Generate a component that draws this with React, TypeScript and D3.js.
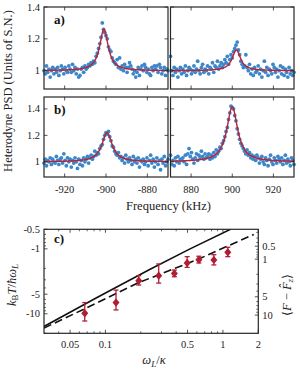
import React from 'react';
import * as d3 from 'd3';

const FONT = 'Liberation Serif, DejaVu Serif, serif';
const BLUE = '#3b87c9';
const RED = '#c21f32';
const MARK = '#b01e34';
const AXIS = '#262626';

// ---------- panels a) b): heterodyne PSD ----------
const freqStartLeft = -930;
const freqStartRight = 870;
const freqStep = 0.6;

const psdALeft = [
  1.00, 0.98, 1.03, 0.99, 1.01, 0.96, 1.00, 1.02, 0.98, 1.01,
  0.99, 1.02, 0.97, 1.00, 1.03, 1.01, 0.98, 1.02, 1.00, 0.99,
  1.03, 1.01, 0.99, 1.04, 1.00, 1.02, 0.98, 1.01, 0.96, 0.97,
  1.01, 1.02, 0.99, 1.03, 1.01, 1.02, 1.04, 1.03, 1.05, 1.04,
  1.06, 1.05, 1.09, 1.11, 1.14, 1.17, 1.21, 1.30, 1.26, 1.24,
  1.22, 1.20, 1.15, 1.13, 1.12, 1.08, 1.06, 1.05, 1.04, 1.07,
  1.02, 1.08, 1.01, 1.03, 1.00, 1.04, 1.02, 0.99, 1.02, 1.05,
  1.03, 1.01, 0.98, 1.00, 0.96, 0.99, 1.02, 0.97, 1.01, 1.03,
  1.00, 1.04, 1.02, 0.99, 1.01, 0.98, 0.97, 1.02, 1.00, 1.03,
  1.01, 1.03, 0.99, 1.04, 1.02, 0.98, 1.00, 1.02, 0.97, 1.01,
  1.00,
];
const psdARight = [
  1.09, 1.00, 0.97, 1.02, 0.99, 1.01, 0.96, 1.00, 1.02, 0.98,
  1.01, 0.99, 1.03, 0.97, 1.00, 1.02, 1.01, 0.98, 1.00, 1.03,
  0.99, 1.01, 1.06, 1.00, 0.98, 1.02, 1.04, 0.99, 1.01, 1.00,
  1.03, 0.98, 1.02, 1.01, 1.05, 0.99, 1.03, 1.02, 1.06, 1.01,
  1.03, 1.05, 1.02, 1.04, 1.07, 1.05, 1.09, 1.04, 1.07, 1.10,
  1.08, 1.12, 1.14, 1.16, 1.18, 1.13, 1.10, 1.06, 1.04, 1.02,
  1.03, 1.10, 1.02, 1.00, 1.04, 0.98, 1.01, 0.97, 1.02, 0.99,
  1.00, 1.03, 0.98, 1.01, 0.96, 1.00, 1.06, 0.99, 1.02, 0.97,
  1.01, 1.00, 0.98, 1.04, 1.02, 0.99, 1.01, 0.96, 1.00, 1.03,
  0.98, 1.02, 0.97, 1.01, 0.99, 0.96, 1.02, 0.98, 1.00, 0.97,
  0.99,
];
const psdBLeft = [
  0.99, 1.02, 0.97, 1.01, 1.00, 1.03, 0.98, 1.02, 1.00, 0.99,
  1.04, 1.01, 0.98, 1.02, 1.03, 0.99, 1.06, 1.01, 0.97, 1.03,
  1.00, 1.02, 0.96, 1.01, 0.99, 1.03, 1.00, 0.95, 1.02, 0.98,
  1.01, 0.97, 1.03, 1.00, 1.02, 1.04, 0.99, 1.03, 1.05, 1.02,
  1.04, 1.08, 1.05, 1.07, 1.06, 1.10, 1.12, 1.13, 1.17, 1.20,
  1.22, 1.21, 1.23, 1.19, 1.16, 1.12, 1.11, 1.08, 1.06, 1.05,
  1.07, 1.03, 1.04, 1.01, 1.03, 0.99, 1.05, 1.02, 1.00, 1.03,
  1.01, 0.98, 1.04, 1.00, 1.02, 0.99, 1.03, 0.96, 1.01, 1.00,
  1.02, 0.98, 1.00, 1.03, 0.97, 1.01, 1.05, 0.99, 1.02, 0.96,
  1.00, 1.03, 0.98, 1.01, 0.94, 1.02, 0.99, 1.04, 0.97, 1.00,
  1.02,
];
const psdBRight = [
  1.05, 0.98, 1.01, 0.97, 1.03, 1.00, 1.04, 0.99, 1.02, 1.01,
  1.03, 1.00, 1.05, 0.98, 1.06, 1.10, 1.04, 1.07, 1.02, 0.99,
  1.03, 1.06, 1.01, 1.05, 1.03, 1.08, 1.04, 1.02, 1.06, 1.03,
  1.04, 1.06, 1.02, 1.05, 1.03, 1.07, 1.04, 1.09, 1.06, 1.08,
  1.11, 1.10, 1.14, 1.16, 1.19, 1.23, 1.26, 1.32, 1.37, 1.42,
  1.41, 1.40, 1.35, 1.31, 1.25, 1.21, 1.17, 1.14, 1.12, 1.10,
  1.08, 1.06, 1.09, 1.05, 1.07, 1.03, 1.05, 1.02, 1.04, 1.01,
  1.05, 1.03, 0.99, 1.02, 1.04, 1.00, 0.98, 1.03, 1.01, 0.97,
  1.02, 1.05, 1.00, 0.98, 1.03, 1.01, 0.99, 1.04, 1.02, 1.00,
  1.03, 0.98, 1.01, 1.05, 0.99, 1.02, 1.00, 0.97, 1.03, 1.01,
  0.98,
];

// Lorentzian fit parameters (a-left, a-right, b-left, b-right)
const fitCenter = [-901, 902, -899.5, 900];
const fitAmp = [0.26, 0.13, 0.22, 0.415];
const fitWidth = [2.5, 2.5, 3.0, 3.2];

const xTicksLeft = [-920, -900, -880];
const xTicksRight = [880, 900, 920];
const yTicksPSD = [1, 1.2, 1.4];

// ---------- panel c) ----------
const omegaRatio = [0.0667, 0.123, 0.192, 0.284, 0.386, 0.496, 0.624, 0.837, 1.10];
const tempMeas = [-9.83, -6.73, -3.10, -2.59, -2.39, -1.65, -1.47, -1.48, -1.13];
const tempErrLow = [-12.93, -8.73, -3.61, -3.37, -2.69, -1.93, -1.65, -1.77, -1.32];
const tempErrHigh = [-6.73, -4.32, -2.59, -1.71, -2.12, -1.32, -1.30, -1.23, -0.945];
const theoryX = [0.03, 0.0848, 0.24, 0.525, 1.16];
const theoryT = [-15.7, -5.61, -2.06, -1.0, -0.5];
const approxX = [0.03, 0.0648, 0.191, 0.624, 1.83];
const approxT = [-16.6, -8.58, -3.33, -1.43, -0.6];
const xTicksC = [0.05, 0.1, 0.5, 1, 2];
const xTickLabelsC = ['0.05', '0.1', '0.5', '1', '2'];
const xMinorC = [0.04, 0.06, 0.07, 0.08, 0.09, 0.2, 0.3, 0.4, 0.6, 0.7, 0.8, 0.9];
const yTicksC = [-0.5, -1, -5, -10];
const yMinorC = [-0.6, -0.7, -0.8, -0.9, -2, -3, -4, -6, -7, -8, -9, -20];
const rightTicksC = [0.5, 1, 5, 10];
const rightMinorC = [0.2, 0.3, 0.4, 0.6, 0.7, 0.8, 0.9, 2, 3, 4, 6, 7, 8, 9];

type PanelProps = {
  data: number[];
  start: number;
  fit: number;
  x: d3.ScaleLinear<number, number>;
  y: d3.ScaleLinear<number, number>;
  xTicks: number[];
  showY: boolean;
  showX: boolean;
};

const txt = (size: number, extra: React.CSSProperties = {}): React.CSSProperties => ({
  fontFamily: FONT,
  fontSize: size,
  fill: '#222',
  ...extra,
});

function PSDPanel({ data, start, fit, x, y, xTicks, showY, showX }: PanelProps) {
  const [x0, x1] = x.range();
  const [y1, y0] = y.range();
  const pts = data.map((v, i) => [start + i * freqStep, v]);
  const [d0, d1] = x.domain();
  const curveF = d3.range(d0, d1 + 0.001, 0.1);
  const line = d3
    .line<number>()
    .x((f) => x(f))
    .y((f) => y(1 + fitAmp[fit] / (1 + ((f - fitCenter[fit]) / fitWidth[fit]) ** 2)));
  const tl = 3.5;
  return (
    <g>
      {pts.map(([f, v], i) => (
        <circle key={i} cx={x(f)} cy={y(v)} r={1.9} fill={BLUE} />
      ))}
      <path d={line(curveF) || ''} fill="none" stroke={RED} strokeWidth={1.4} />
      {xTicks.map((t) => (
        <g key={'x' + t}>
          <line x1={x(t)} x2={x(t)} y1={y0} y2={y0 + tl} stroke={AXIS} strokeWidth={0.8} />
          <line x1={x(t)} x2={x(t)} y1={y1} y2={y1 - tl} stroke={AXIS} strokeWidth={0.8} />
          {showX && (
            <text x={x(t)} y={y1 + 16} textAnchor="middle" style={txt(10.5)}>
              {t}
            </text>
          )}
        </g>
      ))}
      {yTicksPSD.map((t) => (
        <g key={'y' + t}>
          <line x1={x0} x2={x0 + tl} y1={y(t)} y2={y(t)} stroke={AXIS} strokeWidth={0.8} />
          <line x1={x1} x2={x1 - tl} y1={y(t)} y2={y(t)} stroke={AXIS} strokeWidth={0.8} />
          {showY && (
            <text x={x0 - 4} y={y(t) + 3.5} textAnchor="end" style={txt(10.5)}>
              {t === 1 ? '1' : t.toFixed(1)}
            </text>
          )}
        </g>
      ))}
      <rect x={x0} y={y0} width={x1 - x0} height={y1 - y0} fill="none" stroke={AXIS} strokeWidth={1.2} />
    </g>
  );
}

export default function App() {
  const xL = d3.scaleLinear().domain([-930, -870]).range([44, 168]);
  const xR = d3.scaleLinear().domain([870, 930]).range([170.5, 294]);
  const yA = d3.scaleLinear().domain([0.885, 1.4]).range([89, 7]);
  const yB = d3.scaleLinear().domain([0.885, 1.49]).range([177, 97]);

  // panel c
  const cx = d3.scaleLog().domain([0.03, 2]).range([44, 258.3]);
  const cyMag = d3.scaleLog().domain([0.5, 20]).range([229.3, 333.3]);
  const cy = (v: number) => cyMag(-v);
  const occToTemp = (n: number) => 1 / Math.log(1 + 1 / n);
  const [cX0, cX1] = cx.range();
  const [cY0, cY1] = cyMag.range();
  const lineC = (xs: number[], ts: number[]) =>
    d3
      .line<number>()
      .x((i) => cx(xs[i]))
      .y((i) => cy(ts[i]))(d3.range(xs.length)) || '';
  const tl = 3.5;
  const tm = 2;

  const diamond = (px: number, py: number) =>
    `M${px},${py - 4.2}L${px + 3.5},${py}L${px},${py + 4.2}L${px - 3.5},${py}Z`;

  return (
    <svg width={300} height={370} style={{ position: 'absolute', left: 0, top: 0, background: '#fff' }}>
      <PSDPanel data={psdALeft} start={freqStartLeft} fit={0} x={xL} y={yA} xTicks={xTicksLeft} showY showX={false} />
      <PSDPanel data={psdARight} start={freqStartRight} fit={1} x={xR} y={yA} xTicks={xTicksRight} showY={false} showX={false} />
      <PSDPanel data={psdBLeft} start={freqStartLeft} fit={2} x={xL} y={yB} xTicks={xTicksLeft} showY showX />
      <PSDPanel data={psdBRight} start={freqStartRight} fit={3} x={xR} y={yB} xTicks={xTicksRight} showY={false} showX />
      <text x={54} y={23.5} style={txt(13, { fontWeight: 'bold', fill: '#111' })}>a)</text>
      <text x={54} y={114} style={txt(13, { fontWeight: 'bold', fill: '#111' })}>b)</text>
      <text transform="translate(11.5,91) rotate(-90)" textAnchor="middle" style={txt(12.5)}>
        Heterodyne PSD (Units of S.N.)
      </text>
      <text x={168.5} y={209.5} textAnchor="middle" style={txt(12.5)}>
        Frequency (kHz)
      </text>

      {/* panel c */}
      <defs>
        <clipPath id="clipC">
          <rect x={cX0} y={cY0} width={cX1 - cX0} height={cY1 - cY0} />
        </clipPath>
      </defs>
      <g clipPath="url(#clipC)">
        <path d={lineC(theoryX, theoryT)} fill="none" stroke="#111" strokeWidth={1.6} />
        <path d={lineC(approxX, approxT)} fill="none" stroke="#111" strokeWidth={1.6} strokeDasharray="8,4" />
      </g>
      {omegaRatio.map((w, i) => {
        const px = cx(w);
        const lo = cy(tempErrLow[i]);
        const hi = cy(tempErrHigh[i]);
        return (
          <g key={i}>
            <line x1={px} x2={px} y1={lo} y2={hi} stroke={MARK} strokeWidth={1.3} />
            <line x1={px - 2.5} x2={px + 2.5} y1={lo} y2={lo} stroke={MARK} strokeWidth={1.3} />
            <line x1={px - 2.5} x2={px + 2.5} y1={hi} y2={hi} stroke={MARK} strokeWidth={1.3} />
            <path d={diamond(px, cy(tempMeas[i]))} fill={MARK} />
          </g>
        );
      })}
      {xTicksC.map((t, i) => (
        <g key={'cx' + t}>
          <line x1={cx(t)} x2={cx(t)} y1={cY1} y2={cY1 - tl} stroke={AXIS} strokeWidth={0.8} />
          <line x1={cx(t)} x2={cx(t)} y1={cY0} y2={cY0 + tl} stroke={AXIS} strokeWidth={0.8} />
          <text x={cx(t)} y={348} textAnchor="middle" style={txt(10.5)}>
            {xTickLabelsC[i]}
          </text>
        </g>
      ))}
      {xMinorC.map((t) => (
        <g key={'cxm' + t}>
          <line x1={cx(t)} x2={cx(t)} y1={cY1} y2={cY1 - tm} stroke={AXIS} strokeWidth={0.7} />
          <line x1={cx(t)} x2={cx(t)} y1={cY0} y2={cY0 + tm} stroke={AXIS} strokeWidth={0.7} />
        </g>
      ))}
      {yTicksC.map((t) => (
        <g key={'cy' + t}>
          <line x1={cX0} x2={cX0 + tl} y1={cy(t)} y2={cy(t)} stroke={AXIS} strokeWidth={0.8} />
          <text x={cX0 - 4} y={cy(t) + 3.5} textAnchor="end" style={txt(10.5)}>
            {t}
          </text>
        </g>
      ))}
      {yMinorC.map((t) => (
        <line key={'cym' + t} x1={cX0} x2={cX0 + tm} y1={cy(t)} y2={cy(t)} stroke={AXIS} strokeWidth={0.7} />
      ))}
      {rightTicksC.map((n) => (
        <g key={'cr' + n}>
          <line x1={cX1} x2={cX1 - tl} y1={cyMag(occToTemp(n))} y2={cyMag(occToTemp(n))} stroke={AXIS} strokeWidth={0.8} />
          <text x={cX1 + 4} y={cyMag(occToTemp(n)) + 3.5} textAnchor="start" style={txt(10.5)}>
            {n}
          </text>
        </g>
      ))}
      {rightMinorC.map((n) => (
        <line key={'crm' + n} x1={cX1} x2={cX1 - tm} y1={cyMag(occToTemp(n))} y2={cyMag(occToTemp(n))} stroke={AXIS} strokeWidth={0.7} />
      ))}
      <rect x={cX0} y={cY0} width={cX1 - cX0} height={cY1 - cY0} fill="none" stroke={AXIS} strokeWidth={1.2} />
      <text x={54} y={243} style={txt(13, { fontWeight: 'bold', fill: '#111' })}>c)</text>

      <text transform="translate(15.5,285) rotate(-90)" textAnchor="middle" style={txt(12.5)}>
        <tspan fontStyle="italic">k</tspan>
        <tspan fontSize={9} dy={2.5}>B</tspan>
        <tspan fontStyle="italic" dy={-2.5}>T</tspan>
        <tspan>/</tspan>
        <tspan fontStyle="italic">ħω</tspan>
        <tspan fontSize={9} fontStyle="italic" dy={2.5}>L</tspan>
      </text>
      <text transform="translate(290.5,295) rotate(-90)" textAnchor="middle" style={txt(12.5)}>
        <tspan>⟨</tspan>
        <tspan fontStyle="italic">F</tspan>
        <tspan> − </tspan>
        <tspan fontStyle="italic">F̂</tspan>
        <tspan fontSize={9} fontStyle="italic" dy={2.5}>z</tspan>
        <tspan dy={-2.5}>⟩</tspan>
      </text>
      <text x={154} y={364} textAnchor="middle" style={txt(12.5)}>
        <tspan fontStyle="italic">ω</tspan>
        <tspan fontSize={9} fontStyle="italic" dy={2.5}>L</tspan>
        <tspan dy={-2.5}>/</tspan>
        <tspan fontStyle="italic">κ</tspan>
      </text>
    </svg>
  );
}
